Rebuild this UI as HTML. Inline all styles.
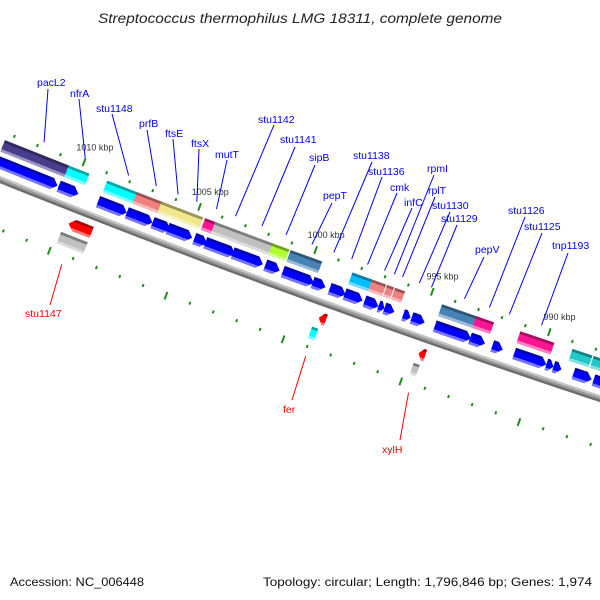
<!DOCTYPE html>
<html><head><meta charset="utf-8">
<style>
html,body{margin:0;padding:0;background:#fff;}
svg{display:block;font-family:"Liberation Sans","DejaVu Sans",sans-serif;}
</style></head>
<body>
<svg id="map" width="600" height="600" viewBox="0 0 600 600" xmlns="http://www.w3.org/2000/svg">
<defs id="defs"></defs>
<rect width="600" height="600" fill="#fff"/>
<text x="300" y="23" text-anchor="middle" font-style="italic" font-size="13.5" fill="#222" textLength="404" lengthAdjust="spacingAndGlyphs">Streptococcus thermophilus LMG 18311, complete genome</text>
<g id="backbone"></g>
<g id="ticks"></g>
<g id="features"></g>
<g id="labels"></g>
<text x="10" y="586" font-size="12" fill="#111" textLength="134" lengthAdjust="spacingAndGlyphs">Accession: NC_006448</text>
<text x="263" y="586" font-size="12" fill="#111" textLength="329" lengthAdjust="spacingAndGlyphs">Topology: circular; Length: 1,796,846 bp; Genes: 1,974</text>
</svg>
<script>
// ---- data (kbp) ----
const fwdCdsStart = [1014.5,1010.6,1008.9,1007.66,1006.55,1005.9,1004.75,1004.28,1003.1,1001.7,1000.95,999.67,998.94,998.3,997.45,996.85,996.6,995.8,995.44,994.45,992.95,992.0,991.07,989.7,989.4,988.55,987.7];
const fwdCdsEnd   = [1010.65,1009.75,1007.66,1006.55,1005.78,1004.84,1004.2,1003.0,1001.8,1001.08,999.62,999.12,998.26,997.53,996.85,996.6,996.17,995.48,994.88,992.91,992.31,991.55,989.7,989.4,989.06,987.78,986.5];
const featStart = [1013.3,1010.53,1008.86,1007.58,1006.51,1004.63,1004.2,1001.73,1000.95,998.3,997.45,996.81,996.47,994.46,993.0,991.12,988.9,988.0];
const featEnd   = [1010.48,1009.63,1007.53,1006.42,1004.71,1004.07,1001.64,1001.0,999.59,997.45,996.85,996.51,996.04,992.88,992.24,989.67,988.05,986.8];
const featColor = ["#483d8b","#00ffff","#00ffff","#f08080","#f0e68c","#ff1493","#c0c0c0","#adff2f","#4682b4","#00bfff","#f08080","#f08080","#f08080","#4682b4","#ff1493","#ff1493","#20c8c8","#20c8c8"];
const revCdsStart = [1009.68,998.95,994.7];
const revCdsEnd   = [1008.69,998.65,994.42];
const revFeatStart = [1009.84,999.08,994.76];
const revFeatEnd   = [1008.69,998.82,994.5];
const revFeatColor = ["#c0c0c0","#00ffff","#c0c0c0"];
const majorTicks = [1010,1005,1000,995,990];
const majorTickLabels = ["1010 kbp","1005 kbp","1000 kbp","995 kbp","990 kbp"];
const geneNames = ["pacL2","nfrA","stu1148","prfB","ftsE","ftsX","mutT","stu1142","stu1141","sipB","pepT","stu1138","stu1136","cmk","infC","rpmI","rplT","stu1130","stu1129","pepV","stu1126","stu1125","tnp1193"];
const geneAnchor = [1011.8,1010.01,1008.13,1006.93,1005.99,1005.18,1004.33,1003.51,1002.37,1001.33,1000.22,999.28,998.51,997.83,997.1,996.68,996.33,995.61,995.09,993.68,992.61,991.76,990.39];
const revNames = ["stu1147","fer","xylH"];
const revAnchor = [1009.34,998.92,994.56];

// ---- layout (not data) ----
const labelPos = [[37,82],[70,93],[96,108],[139,123],[165,133],[191,143],[215,154],[258,119],[280,139],[309,157],[323,195],[353,155],[368,171],[390,187],[404,202],[427,168],[428,190],[432,205],[441,218],[475,249],[508,210],[524,226],[552,245]];
const labelLineTop = [[48,89],[79,99],[112,114],[147,130],[173,139],[199,149],[227,160],[274,125],[295,147],[315,165],[332,203],[372,162],[382,177],[397,193],[412,208],[434,175],[435,197],[450,212],[457,225],[484,257],[525,217],[542,233],[568,253]];
const revLabelPos = [[25,313],[283,409],[382,449]];
const revLineEnd = [[50,305],[292,400],[400,440]];

const R=10198, CX=3795, CY=-9286, NS="http://www.w3.org/2000/svg";
function phi(k){return (111.443-(1010-k)*0.1398)*Math.PI/180;}
function pt(k,off){const a=phi(k), r=R-off; return [CX+r*Math.cos(a), CY+r*Math.sin(a)];}
function mk(tag,attrs,parent){const e=document.createElementNS(NS,tag);for(const a in attrs)e.setAttribute(a,attrs[a]);parent.appendChild(e);return e;}
function mix(hex,t,target){const n=parseInt(hex.slice(1),16);let r=n>>16,g=(n>>8)&255,b=n&255;const T=target?255:0;r=Math.round(r+(T-r)*t);g=Math.round(g+(T-g)*t);b=Math.round(b+(T-b)*t);return "rgb("+r+","+g+","+b+")";}
const defs=document.getElementById('defs');
let gid=0;
function grad(k,top,bot,color){
  const id='g'+(gid++); const a=pt(k,top), b=pt(k,bot);
  const g=mk('linearGradient',{id:id,gradientUnits:'userSpaceOnUse',x1:a[0],y1:a[1],x2:b[0],y2:b[1]},defs);
  const dark=mix(color,0.35,false), light=mix(color,0.45,true);
  [[0,dark],[0.22,dark],[0.22,color],[0.76,color],[0.76,light],[1,light]].forEach(s=>mk('stop',{offset:s[0],'stop-color':s[1]},g));
  return 'url(#'+id+')';
}
function poly(pts){return pts.map(p=>p[0].toFixed(2)+','+p[1].toFixed(2)).join(' ');}

// backbone
const bb=document.getElementById('backbone');
[[2.2,'#c4c4c4'],[0,'#9a9a9a'],[-2.2,'#6c6c6c']].forEach((o,i)=>{
  const pts=[];for(let k=1017;k>=983;k-=0.5)pts.push(pt(k,o[0]));
  const l=mk('polyline',{points:poly(pts),fill:'none',stroke:o[1],'stroke-width':2.4},bb);
  
  
});

// ticks
const tg=document.getElementById('ticks');
for(let k=1016;k>=984;k--){
  const major=majorTicks.indexOf(k)>=0;
  [[44,47,43,51],[-45,-48,-44,-52]].forEach(row=>{
    const a=pt(k,major?row[2]:row[0]), b=pt(k,major?row[3]:row[1]);
    const l=mk('line',{x1:a[0],y1:a[1],x2:b[0],y2:b[1],stroke:'#1f8a1f','stroke-width':2},tg);
    
    
  });
}
majorTicks.forEach((k,i)=>{
  const p=pt(k,63);
  const t=mk('text',{x:p[0]+5,y:p[1]+3,'text-anchor':'middle','font-size':9,fill:'#333'},tg);
  t.textContent=majorTickLabels[i];
  
  
});

const fg=document.getElementById('features');
function box(s,e,top,bot,color,name){
  const f=grad((s+e)/2,top,bot,color);
  const p=mk('polygon',{points:poly([pt(s,top),pt(e,top),pt(e,bot),pt(s,bot)]),fill:f},fg);
  
  
}
function arrow(s,e,top,bot,color,fwd,name){
  const len=Math.abs(s-e), head=Math.min(0.24,len*0.6), mid=(top+bot)/2;
  let pts;
  if(fwd){const h=e+head;pts=[pt(s,top),pt(h,top),pt(e,mid),pt(h,bot),pt(s,bot)];}
  else{const h=s-head;pts=[pt(s,mid),pt(h,top),pt(e,top),pt(e,bot),pt(h,bot)];}
  const f=grad((s+e)/2,top,bot,color);
  const p=mk('polygon',{points:poly(pts),fill:f},fg);
  
  
}
featStart.forEach((s,i)=>box(s,featEnd[i],38.5,26,featColor[i],'feature-box'));
fwdCdsStart.forEach((s,i)=>arrow(s,fwdCdsEnd[i],21.5,9.5,'#0000ff',true,'forward-cds'));
revCdsStart.forEach((s,i)=>{
  const len=s-revCdsEnd[i];
  arrow(s,revCdsEnd[i],-9.5,-21.5,'#ff0000',false,'reverse-cds');
});
revFeatStart.forEach((s,i)=>box(s,revFeatEnd[i],-26,-38.5,revFeatColor[i],'reverse-feature-box'));

// labels
const lg=document.getElementById('labels');
geneNames.forEach((n,i)=>{
  const b=pt(geneAnchor[i],51), a=labelLineTop[i];
  const l=mk('line',{x1:a[0],y1:a[1],x2:b[0],y2:b[1],stroke:'#0000ff','stroke-width':1},lg);
  
  
  const t=mk('text',{x:labelPos[i][0],y:labelPos[i][1]+4,'font-size':10.5,fill:'#0000ff'},lg);
  t.textContent=n;
  
  
});
revNames.forEach((n,i)=>{
  const a=pt(revAnchor[i],-56), b=revLineEnd[i];
  const l=mk('line',{x1:a[0],y1:a[1],x2:b[0],y2:b[1],stroke:'#ff0000','stroke-width':1},lg);
  
  
  const t=mk('text',{x:revLabelPos[i][0],y:revLabelPos[i][1]+4,'font-size':10.5,fill:'#ff0000'},lg);
  t.textContent=n;
  
  
});
</script>
</body></html>
